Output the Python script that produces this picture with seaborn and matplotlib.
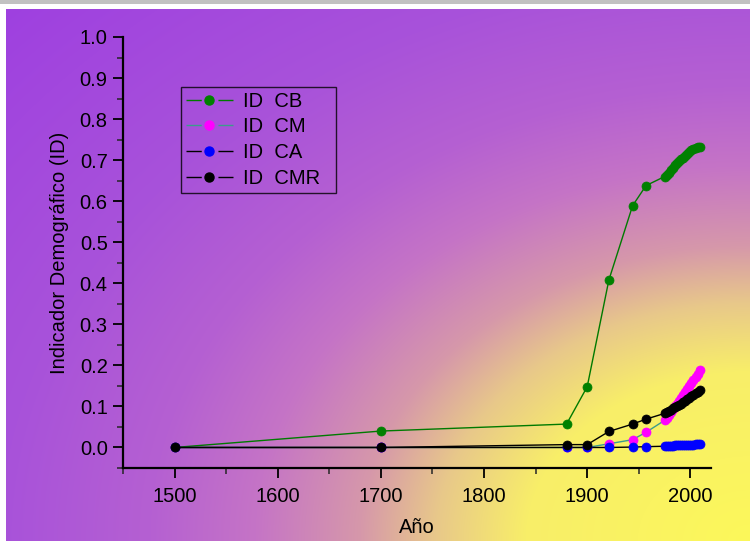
import numpy as np
import pandas as pd
import matplotlib
matplotlib.use("Agg")
import matplotlib.pyplot as plt
from matplotlib.lines import Line2D
from matplotlib.ticker import MultipleLocator, FormatStrFormatter
import seaborn as sns

# years: early sparse points, then the dense modern block
years = [1500, 1700, 1880, 1900, 1921, 1944, 1957,
         1975, 1977, 1979, 1981, 1983, 1985, 1987, 1989, 1991,
         1993, 1995, 1997, 1999, 2001, 2003, 2005, 2007, 2009]

id_cb = [0.0, 0.040, 0.057, 0.148, 0.408, 0.589, 0.638,
         0.660, 0.664, 0.669, 0.675, 0.681, 0.687, 0.692, 0.697, 0.702,
         0.706, 0.711, 0.716, 0.720, 0.725, 0.728, 0.730, 0.731, 0.731]
id_cm = [0.0, 0.0, 0.0, 0.0, 0.009, 0.019, 0.037,
         0.066, 0.072, 0.079, 0.086, 0.093, 0.100, 0.107, 0.114, 0.121,
         0.128, 0.135, 0.142, 0.150, 0.157, 0.165, 0.172, 0.180, 0.188]
id_ca = [0.0, 0.0, 0.0, 0.0, 0.0, 0.001, 0.002,
         0.003, 0.003, 0.004, 0.004, 0.004, 0.005, 0.005, 0.005, 0.006,
         0.006, 0.006, 0.006, 0.007, 0.007, 0.007, 0.008, 0.008, 0.008]
id_cmr = [0.0, 0.0, 0.007, 0.007, 0.039, 0.057, 0.069,
          0.083, 0.086, 0.089, 0.092, 0.095, 0.098, 0.101, 0.104, 0.107,
          0.110, 0.113, 0.117, 0.121, 0.125, 0.129, 0.132, 0.136, 0.139]

labels = ["ID  CB", "ID  CM", "ID  CA", "ID  CMR"]
series = [id_cb, id_cm, id_ca, id_cmr]
line_colors = ["#007a00", "#3c9c8c", "#000000", "#000000"]
marker_colors = ["#008000", "#ff00ff", "#0000ff", "#000000"]

sns.set_style("ticks")
plt.rcParams["font.family"] = ["Liberation Sans", "DejaVu Sans"]
plt.rcParams["text.color"] = "black"
plt.rcParams["axes.labelcolor"] = "black"

W, H = 750, 541
fig = plt.figure(figsize=(W / 100, H / 100), dpi=100)

# gradient background: yellow glow from the lower right corner into purple
xx, yy = np.meshgrid(np.arange(W) / W, np.arange(H) / H)
r = np.sqrt((1 - xx) ** 2 + ((1 - yy) / 1.05) ** 2)
stops = [0.0, 0.3, 0.42, 0.52, 0.66, 0.8, 1.0, 1.45]
cols = np.array([[252, 248, 90], [248, 238, 105], [232, 200, 138],
                 [214, 152, 170], [197, 116, 198], [181, 96, 210],
                 [168, 82, 218], [156, 60, 225]]) / 255
img = np.zeros((H, W, 3))
for c in range(3):
    img[..., c] = np.interp(r, stops, cols[:, c])
img[:9, :] = 1.0
img[:4, :] = 0.76
img[4:, :6] = 1.0
bg = fig.add_axes([0, 0, 1, 1], zorder=0)
bg.imshow(img, aspect="auto", interpolation="bilinear")
bg.axis("off")

ax = fig.add_axes([123 / W, 1 - 468 / H, 588 / W, 431 / H], zorder=1)
ax.set_facecolor("none")

for lab, vals, lc, mc in zip(labels, series, line_colors, marker_colors):
    df = pd.DataFrame({"year": years, "id": vals})
    sns.lineplot(data=df, x="year", y="id", ax=ax, color=lc, lw=1.0,
                 marker="o", markersize=6.5, markerfacecolor=mc,
                 markeredgecolor=mc, markeredgewidth=0.5, legend=False)

ax.set_xlim(1450, 2020)
ax.set_ylim(-0.05, 1.0)
ax.xaxis.set_major_locator(MultipleLocator(100))
ax.xaxis.set_minor_locator(MultipleLocator(50))
ax.yaxis.set_major_locator(MultipleLocator(0.1))
ax.yaxis.set_minor_locator(MultipleLocator(0.05))
ax.yaxis.set_major_formatter(FormatStrFormatter("%.1f"))
ax.tick_params(which="major", direction="out", length=7, width=1.3,
               labelsize=14.5, colors="black", pad=4)
ax.tick_params(axis="x", which="major", pad=7)
ax.tick_params(which="minor", direction="out", length=4, width=1.1)

for side in ["top", "right"]:
    ax.spines[side].set_visible(False)
for side in ["left", "bottom"]:
    ax.spines[side].set_linewidth(1.6)
    ax.spines[side].set_color("black")

ax.set_xlabel("Año", fontsize=14.5, labelpad=8)
ax.set_ylabel("Indicador Demográfico (ID)", fontsize=14.5, labelpad=8)

# legend handles in the "— ● —" style
handles = [Line2D([], [], color=lc, lw=1.0, dashes=(11, 12, 11, 100),
                  marker="o", markersize=6.5, markerfacecolor=mc,
                  markeredgecolor=mc)
           for lc, mc in zip(line_colors, marker_colors)]
leg = ax.legend(handles, [l + "  " for l in labels], loc="upper left",
                bbox_to_anchor=(0.098, 0.885), borderaxespad=0,
                fontsize=14.5, frameon=True, fancybox=False,
                handlelength=2.35, handletextpad=0.5, labelspacing=0.34,
                borderpad=0.25)
leg.get_frame().set_facecolor("none")
leg.get_frame().set_edgecolor("black")
leg.get_frame().set_linewidth(1.0)

fig.savefig("out.png", dpi=100)
